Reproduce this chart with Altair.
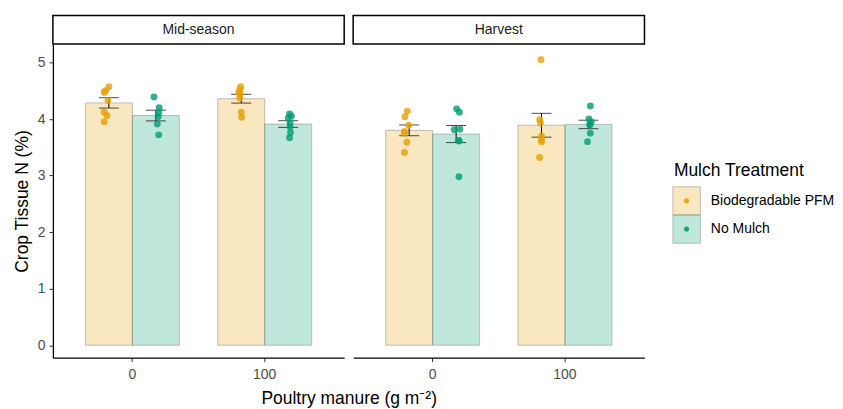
import altair as alt
import pandas as pd

seasons = ["Mid-season", "Harvest"]
manure_levels = ["0", "100"]
mulch_levels = ["Biodegradable PFM", "No Mulch"]
mulch_colors = ["#E69F00", "#009E73"]

# Crop tissue N (%) per replicate
mid_0_pfm = [4.57, 4.50, 4.47, 4.33, 4.12, 4.06, 3.95]
mid_0_nm = [4.39, 4.20, 4.11, 4.04, 3.91, 3.72]
mid_100_pfm = [4.57, 4.52, 4.48, 4.43, 4.37, 4.12, 4.03]
mid_100_nm = [4.09, 4.05, 4.02, 3.93, 3.86, 3.76, 3.67]
har_0_pfm = [4.14, 4.04, 3.89, 3.78, 3.75, 3.59, 3.41]
har_0_nm = [4.18, 4.12, 3.82, 3.81, 3.62, 3.61, 2.98]
har_100_pfm = [5.05, 3.99, 3.93, 3.70, 3.64, 3.60, 3.32]
har_100_nm = [4.23, 4.00, 3.95, 3.91, 3.89, 3.75, 3.60]

# horizontal jitter of each point (fraction of one bar width)
jit_mid_0_pfm = [0.00, -0.07, -0.10, -0.02, -0.10, -0.04, -0.10]
jit_mid_0_nm = [-0.04, 0.07, 0.06, 0.05, 0.03, 0.06]
jit_mid_100_pfm = [-0.01, -0.03, -0.05, -0.03, -0.03, 0.00, 0.01]
jit_mid_100_nm = [0.03, 0.07, 0.00, 0.04, 0.04, 0.05, 0.03]
jit_har_0_pfm = [-0.04, -0.09, -0.01, -0.10, -0.10, -0.05, -0.10]
jit_har_0_nm = [0.01, 0.07, 0.08, -0.04, 0.06, 0.06, 0.06]
jit_har_100_pfm = [-0.01, -0.04, -0.02, 0.00, 0.00, 0.00, -0.04]
jit_har_100_nm = [0.04, 0.01, 0.06, 0.03, 0.03, 0.04, -0.02]

groups = [
    ("Mid-season", "0", "Biodegradable PFM", mid_0_pfm, jit_mid_0_pfm),
    ("Mid-season", "0", "No Mulch", mid_0_nm, jit_mid_0_nm),
    ("Mid-season", "100", "Biodegradable PFM", mid_100_pfm, jit_mid_100_pfm),
    ("Mid-season", "100", "No Mulch", mid_100_nm, jit_mid_100_nm),
    ("Harvest", "0", "Biodegradable PFM", har_0_pfm, jit_har_0_pfm),
    ("Harvest", "0", "No Mulch", har_0_nm, jit_har_0_nm),
    ("Harvest", "100", "Biodegradable PFM", har_100_pfm, jit_har_100_pfm),
    ("Harvest", "100", "No Mulch", har_100_nm, jit_har_100_nm),
]
rows = []
for season, manure, mulch, vals, jits in groups:
    for v, j in zip(vals, jits):
        rows.append({"season": season, "manure": manure, "mulch": mulch, "n": v, "jitter": j})
df = pd.DataFrame(rows)

FONT = "Liberation Sans"
PW, PH = 292, 314
ydomain = [-0.22, 5.32]
YTITLE = "Crop Tissue N (%)"
XTITLE = "Poultry manure (g m\u207b\u00b2)"

color_scale = alt.Scale(domain=mulch_levels, range=mulch_colors)
xscale = alt.Scale(domain=manure_levels, paddingInner=0.29, paddingOuter=0.2457)
yscale = alt.Scale(domain=ydomain, nice=False, zero=False)
off_nom = alt.XOffset("mulch:N", sort=mulch_levels,
                      scale=alt.Scale(domain=mulch_levels, paddingInner=0, paddingOuter=0))


def panel(season, first):
    if first:
        xaxis = alt.Axis(labelAngle=0, titleX=PW + 4.5, titleAnchor="middle", titleAlign="center")
        yaxis = alt.Axis(values=[0, 1, 2, 3, 4, 5], format="d", grid=False)
    else:
        xaxis = alt.Axis(title=None, labelAngle=0)
        yaxis = None
    xt = XTITLE if first else None
    xenc = alt.X("manure:N", sort=manure_levels, scale=xscale, axis=xaxis, title=xt)
    base = alt.Chart(df).transform_filter(alt.datum.season == season)

    bars = base.mark_bar(fillOpacity=0.25, stroke="#7a7a7a", strokeOpacity=0.45, strokeWidth=1).encode(
        x=xenc,
        xOffset=off_nom,
        y=alt.Y("mean(n):Q", scale=yscale, axis=yaxis, title=YTITLE),
        y2=alt.datum(0),
        fill=alt.Fill("mulch:N", scale=color_scale, legend=None),
    )
    errs = base.mark_errorbar(extent="stderr", ticks=True, size=20, thickness=1, color="black").encode(
        x=xenc,
        xOffset=off_nom,
        y=alt.Y("n:Q", scale=yscale, title=YTITLE),
    )
    pts = base.transform_calculate(
        off="(datum.mulch == 'No Mulch' ? 0.5 : -0.5) + datum.jitter"
    ).mark_circle(size=48, opacity=0.8).encode(
        x=xenc,
        xOffset=alt.XOffset("off:Q", scale=alt.Scale(domain=[-1, 1], zero=False, nice=False)),
        y=alt.Y("n:Q", scale=yscale, title=YTITLE),
        color=alt.Color("mulch:N", scale=color_scale, legend=None),
    )
    strip_df = pd.DataFrame({"season": [season]})
    strip = alt.Chart(strip_df).mark_rect(fill="white", stroke="black", strokeWidth=1.5).encode(
        x=alt.value(0), x2=alt.value(PW), y=alt.value(-29), y2=alt.value(-0.5)
    )
    strip_txt = alt.Chart(strip_df).mark_text(font=FONT, fontSize=14, color="#1A1A1A").encode(
        x=alt.value(PW / 2), y=alt.value(-14.5), text="season:N"
    )
    return alt.layer(bars, errs, pts, strip, strip_txt).resolve_scale(xOffset="independent").properties(
        width=PW, height=PH
    )


leg_df = pd.DataFrame({"mulch": mulch_levels})
ly = alt.Y("mulch:N", sort=mulch_levels,
           scale=alt.Scale(domain=mulch_levels, range=[142.7, 199.3], paddingInner=0, paddingOuter=0),
           axis=None)
leg_keys = alt.Chart(leg_df).mark_rect(fillOpacity=0.25, stroke="#7a7a7a", strokeOpacity=0.45).encode(
    x=alt.value(19.5), x2=alt.value(47), y=ly,
    fill=alt.Fill("mulch:N", scale=color_scale, legend=None),
)
leg_dots = alt.Chart(leg_df).mark_circle(size=26, opacity=0.9).encode(
    x=alt.value(33.2), y=ly, color=alt.Color("mulch:N", scale=color_scale, legend=None)
)
leg_txt = alt.Chart(leg_df).mark_text(font=FONT, fontSize=14, align="left", baseline="middle",
                                      color="black").encode(
    x=alt.value(57.5), y=ly, text="mulch:N"
)
leg_title = alt.Chart(pd.DataFrame({"t": ["Mulch Treatment"]})).mark_text(
    font=FONT, fontSize=17.5, align="left", baseline="middle", color="black").encode(
    x=alt.value(20.5), y=alt.value(126.5), text="t:N"
)
legend = alt.layer(leg_keys, leg_dots, leg_txt, leg_title).properties(width=175, height=PH)

chart = alt.hconcat(panel(seasons[0], True), panel(seasons[1], False), legend,
                    spacing=9, bounds="flush").properties(
    padding={"left": 5, "top": 6, "right": 0, "bottom": 0}
).configure_view(strokeWidth=0).configure_axis(
    labelFont=FONT, titleFont=FONT, labelFontSize=14, titleFontSize=17.5, labelColor="#4D4D4D",
    titleColor="black", titleFontWeight="normal", domainColor="black", domainWidth=1.3,
    tickColor="#333333", tickSize=4, labelPadding=4, titlePadding=6, grid=False
).configure_axisX(titlePadding=8, labelPadding=6)

chart.save("out.html", embed_options={"renderer": "svg", "actions": False})
